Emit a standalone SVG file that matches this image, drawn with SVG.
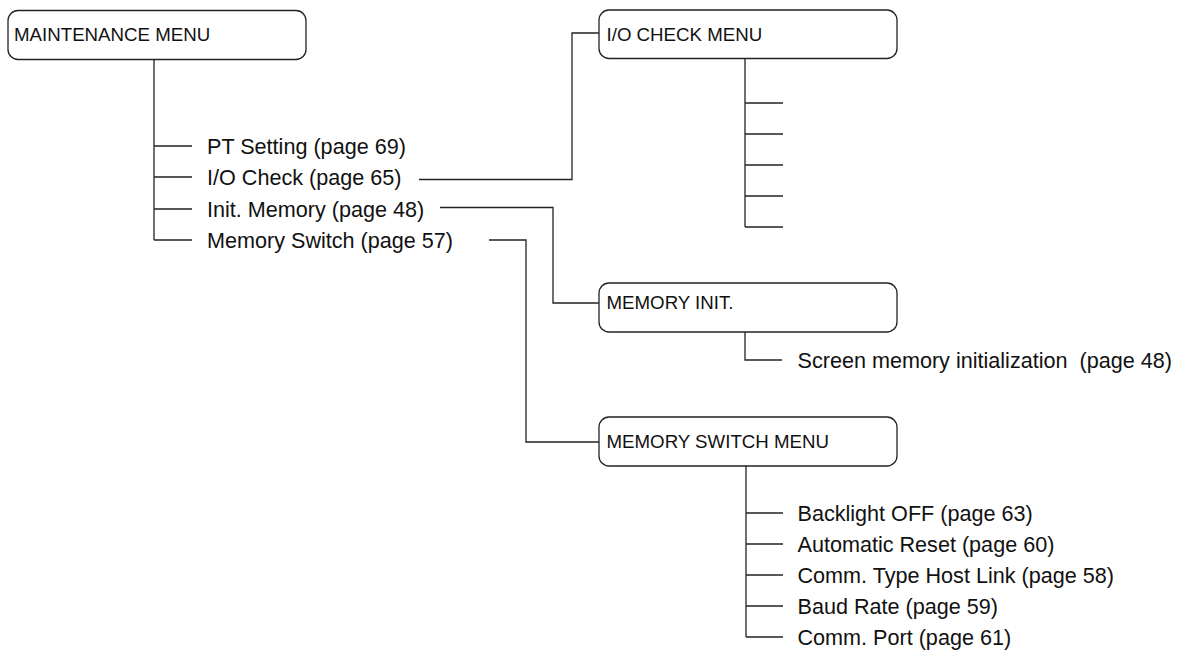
<svg xmlns="http://www.w3.org/2000/svg" width="1183" height="652" viewBox="0 0 1183 652">
<style>
.box{fill:#fff;stroke:#222;stroke-width:1.3}
.ln{fill:none;stroke:#222;stroke-width:1.3}
.h{font-family:"Liberation Sans",Arial,sans-serif;font-size:18.7px;fill:#111}
.t{font-family:"Liberation Sans",Arial,sans-serif;font-size:21.6px;fill:#111}
</style>
<rect width="1183" height="652" fill="#fff"/>
<g id="connectors" class="ln">
<path d="M154 59.5V240M154 146H192M154 177H192M154 209H192M154 240H192"/>
<path d="M419 179.5H572V33H599"/>
<path d="M440 207.5H553V303H599"/>
<path d="M489 240H526V442H599"/>
<path d="M745 58.5V227M745 103H783M745 134H783M745 165H783M745 196H783M745 227H783"/>
<path d="M745 332V360H782"/>
<path d="M746 466V637M746 513H783M746 544H783M746 575H783M746 606H783M746 637H783"/>
</g>
<g id="maintenance-menu">
<rect class="box" x="8" y="10.5" width="298" height="49" rx="10"/>
<text class="h" x="14" y="40.7">MAINTENANCE MENU</text>
</g>
<g id="maintenance-items" class="t">
<text x="207" y="153.5">PT Setting (page 69)</text>
<text x="207" y="184.5">I/O Check (page 65)</text>
<text x="207" y="216.5">Init. Memory (page 48)</text>
<text x="207" y="247.5">Memory Switch (page 57)</text>
</g>
<g id="io-check-menu">
<rect class="box" x="599" y="10" width="298" height="48.5" rx="10"/>
<text class="h" x="606.5" y="40.7">I/O CHECK MENU</text>
</g>
<g id="memory-init">
<rect class="box" x="599" y="283" width="298" height="49" rx="10"/>
<text class="h" x="606.5" y="308.5">MEMORY INIT.</text>
<text class="t" x="797.5" y="367.5">Screen memory initialization&#160; (page 48)</text>
</g>
<g id="memory-switch-menu">
<rect class="box" x="599" y="417" width="298" height="49" rx="10"/>
<text class="h" x="606.5" y="448">MEMORY SWITCH MENU</text>
</g>
<g id="memory-switch-items" class="t">
<text x="797.5" y="520.5">Backlight OFF (page 63)</text>
<text x="797.5" y="551.5">Automatic Reset (page 60)</text>
<text x="797.5" y="582.5">Comm. Type Host Link (page 58)</text>
<text x="797.5" y="613.5">Baud Rate (page 59)</text>
<text x="797.5" y="644.5">Comm. Port (page 61)</text>
</g>
</svg>
